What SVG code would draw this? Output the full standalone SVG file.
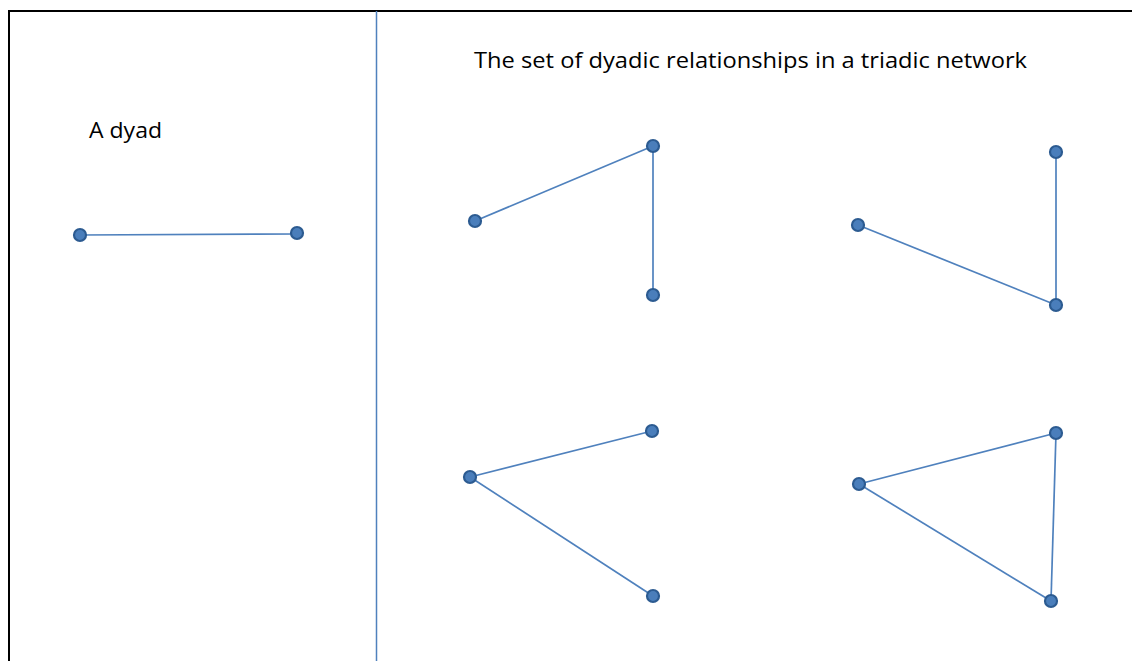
<svg xmlns="http://www.w3.org/2000/svg" width="1132" height="661" viewBox="0 0 1132 661">
<style>
.frame{stroke:#000;stroke-width:2;fill:none}
.div{stroke:#4f81bd;stroke-width:1.5;fill:none}
.edge{stroke:#4f81bd;stroke-width:1.7;fill:none}
.node{fill:#4a7ebb;stroke:#2c5b91;stroke-width:2.2}
.lbl{font-family:"Open Sans","Liberation Sans",sans-serif;font-size:22px;fill:#000}
</style>
<rect width="1132" height="661" fill="#fff"/>
<path class="frame" d="M9,661 V11 H1132"/>
<line class="div" x1="376.5" y1="11" x2="376.5" y2="661"/>
<text class="lbl" x="89" y="138" textLength="73" lengthAdjust="spacingAndGlyphs">A dyad</text>
<text class="lbl" x="474" y="68" textLength="553" lengthAdjust="spacingAndGlyphs">The set of dyadic relationships in a triadic network</text>
<g id="connectors">
<line class="edge" x1="80" y1="235" x2="297" y2="234"/>
<line class="edge" x1="475" y1="221" x2="653" y2="146"/>
<line class="edge" x1="653" y1="146" x2="653" y2="295"/>
<line class="edge" x1="858" y1="225" x2="1056" y2="305"/>
<line class="edge" x1="1056" y1="152" x2="1056" y2="305"/>
<line class="edge" x1="470" y1="477" x2="652" y2="431"/>
<line class="edge" x1="470" y1="477" x2="653" y2="596"/>
<line class="edge" x1="859" y1="484" x2="1056" y2="433"/>
<line class="edge" x1="1056" y1="433" x2="1051" y2="601"/>
<line class="edge" x1="859" y1="484" x2="1051" y2="601"/>
</g>
<g id="dyad-a"><circle class="node" cx="80" cy="235" r="6"/></g>
<g id="dyad-b"><circle class="node" cx="297" cy="233" r="6"/></g>
<g id="t1-a"><circle class="node" cx="475" cy="221" r="6"/></g>
<g id="t1-b"><circle class="node" cx="653" cy="146" r="6"/></g>
<g id="t1-c"><circle class="node" cx="653" cy="295" r="6"/></g>
<g id="t2-a"><circle class="node" cx="858" cy="225" r="6"/></g>
<g id="t2-b"><circle class="node" cx="1056" cy="152" r="6"/></g>
<g id="t2-c"><circle class="node" cx="1056" cy="305" r="6"/></g>
<g id="t3-a"><circle class="node" cx="470" cy="477" r="6"/></g>
<g id="t3-b"><circle class="node" cx="652" cy="431" r="6"/></g>
<g id="t3-c"><circle class="node" cx="653" cy="596" r="6"/></g>
<g id="t4-a"><circle class="node" cx="859" cy="484" r="6"/></g>
<g id="t4-b"><circle class="node" cx="1056" cy="433" r="6"/></g>
<g id="t4-c"><circle class="node" cx="1051" cy="601" r="6"/></g>
</svg>
